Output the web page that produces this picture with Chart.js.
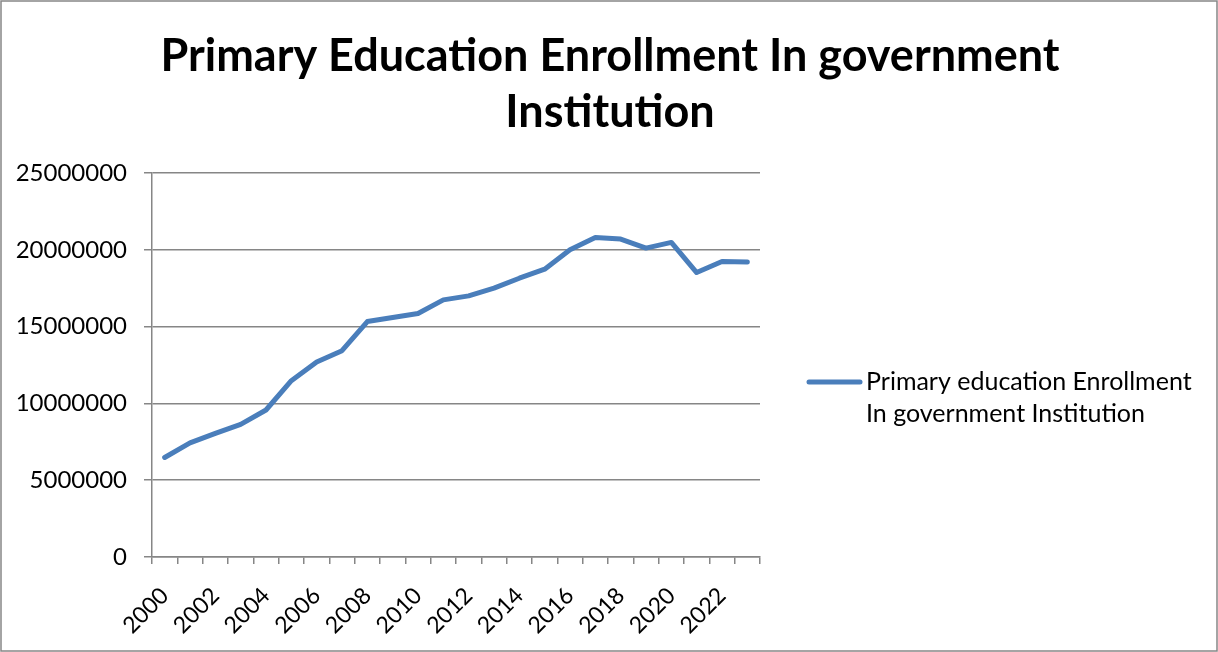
<!DOCTYPE html>
<html>
<head>
<meta charset="utf-8">
<script src="https://cdn.jsdelivr.net/npm/chart.js@4.4.0/dist/chart.umd.min.js"></script>
<style>
  html, body { margin: 0; padding: 0; background: #fff; }
  #wrap { width: 1218px; height: 652px; }
</style>
</head>
<body>
<div id="wrap"><canvas id="myChart" width="1218" height="652"></canvas></div>
<script>
var years = ["2000", "2001", "2002", "2003", "2004", "2005", "2006", "2007", "2008", "2009",
  "2010", "2011", "2012", "2013", "2014", "2015", "2016", "2017", "2018", "2019",
  "2020", "2021", "2022", "2023"];

var enrollment = [6480000, 7430000, 8050000, 8630000, 9570000, 11480000, 12690000, 13430000,
  15330000, 15590000, 15850000, 16740000, 17000000, 17500000, 18150000, 18740000,
  20000000, 20800000, 20700000, 20110000, 20480000, 18520000, 19240000, 19200000];

var yTicks = [0, 5000000, 10000000, 15000000, 20000000, 25000000];

var seriesName = ["Primary education Enrollment", "In government Institution"];
var titleLines = ["Primary Education Enrollment In government", "Institution"];

var lineColor = "#4a7ebb";
var gridColor = "#868686";
var font = "Lato";

// title across the full width, legend on the right, outer frame
var decorations = {
  id: "decorations",
  afterDraw: function (chart) {
    var ctx = chart.ctx;
    ctx.save();
    ctx.fillStyle = "#000";
    ctx.textAlign = "center";
    ctx.textBaseline = "middle";
    ctx.font = "bold 45px " + font;
    ctx.fillText(titleLines[0], 610, 56);
    ctx.fillText(titleLines[1], 610, 112);

    ctx.strokeStyle = lineColor;
    ctx.lineWidth = 5;
    ctx.lineCap = "round";
    ctx.beginPath();
    ctx.moveTo(809, 382);
    ctx.lineTo(860, 382);
    ctx.stroke();
    ctx.textAlign = "left";
    ctx.font = "25px " + font;
    ctx.fillText(seriesName[0], 866, 382);
    ctx.fillText(seriesName[1], 866, 414);

    ctx.strokeStyle = gridColor;
    ctx.lineWidth = 1.5;
    ctx.lineCap = "butt";
    ctx.strokeRect(1, 1, chart.width - 2, chart.height - 2);
    ctx.restore();
  }
};

var chart1 = document.getElementById("myChart").getContext("2d");

var myChart = new Chart(chart1, {
  type: "line",
  data: {
    labels: years,
    datasets: [
      {
        label: seriesName.join(" "),
        data: enrollment,
        borderColor: lineColor,
        backgroundColor: lineColor,
        borderWidth: 5,
        borderJoinStyle: "round",
        borderCapStyle: "round",
        pointRadius: 0,
        tension: 0,
      },
    ],
  },
  options: {
    responsive: false,
    animation: false,
    layout: { padding: { left: 0, right: 458, top: 173, bottom: 0 } },
    plugins: {
      legend: { display: false },
      tooltip: { enabled: false },
      title: { display: false },
    },
    scales: {
      x: {
        offset: true,
        grid: {
          offset: true,
          drawOnChartArea: false,
          color: gridColor,
          lineWidth: 1.5,
          tickLength: 7,
        },
        border: { color: gridColor, width: 1.5 },
        ticks: {
          autoSkip: false,
          maxRotation: 45,
          minRotation: 45,
          padding: 18,
          color: "#000",
          font: { family: font, size: 23 },
          callback: function (v, i) {
            return i % 2 === 0 ? years[i] : "";
          },
        },
        afterFit: function (scale) {
          scale.height = 95;
        },
      },
      y: {
        min: 0,
        max: 25000000,
        afterBuildTicks: function (scale) {
          scale.ticks = yTicks.map(function (v) { return { value: v }; });
        },
        grid: { color: gridColor, lineWidth: 1.5, tickLength: 8 },
        border: { color: gridColor, width: 1.5 },
        ticks: {
          padding: 17,
          color: "#000",
          font: { family: font, size: 24 },
          callback: function (v) { return String(v); },
        },
        afterFit: function (scale) {
          scale.width = 152;
        },
      },
    },
  },
  plugins: [decorations],
});
</script>
</body>
</html>
